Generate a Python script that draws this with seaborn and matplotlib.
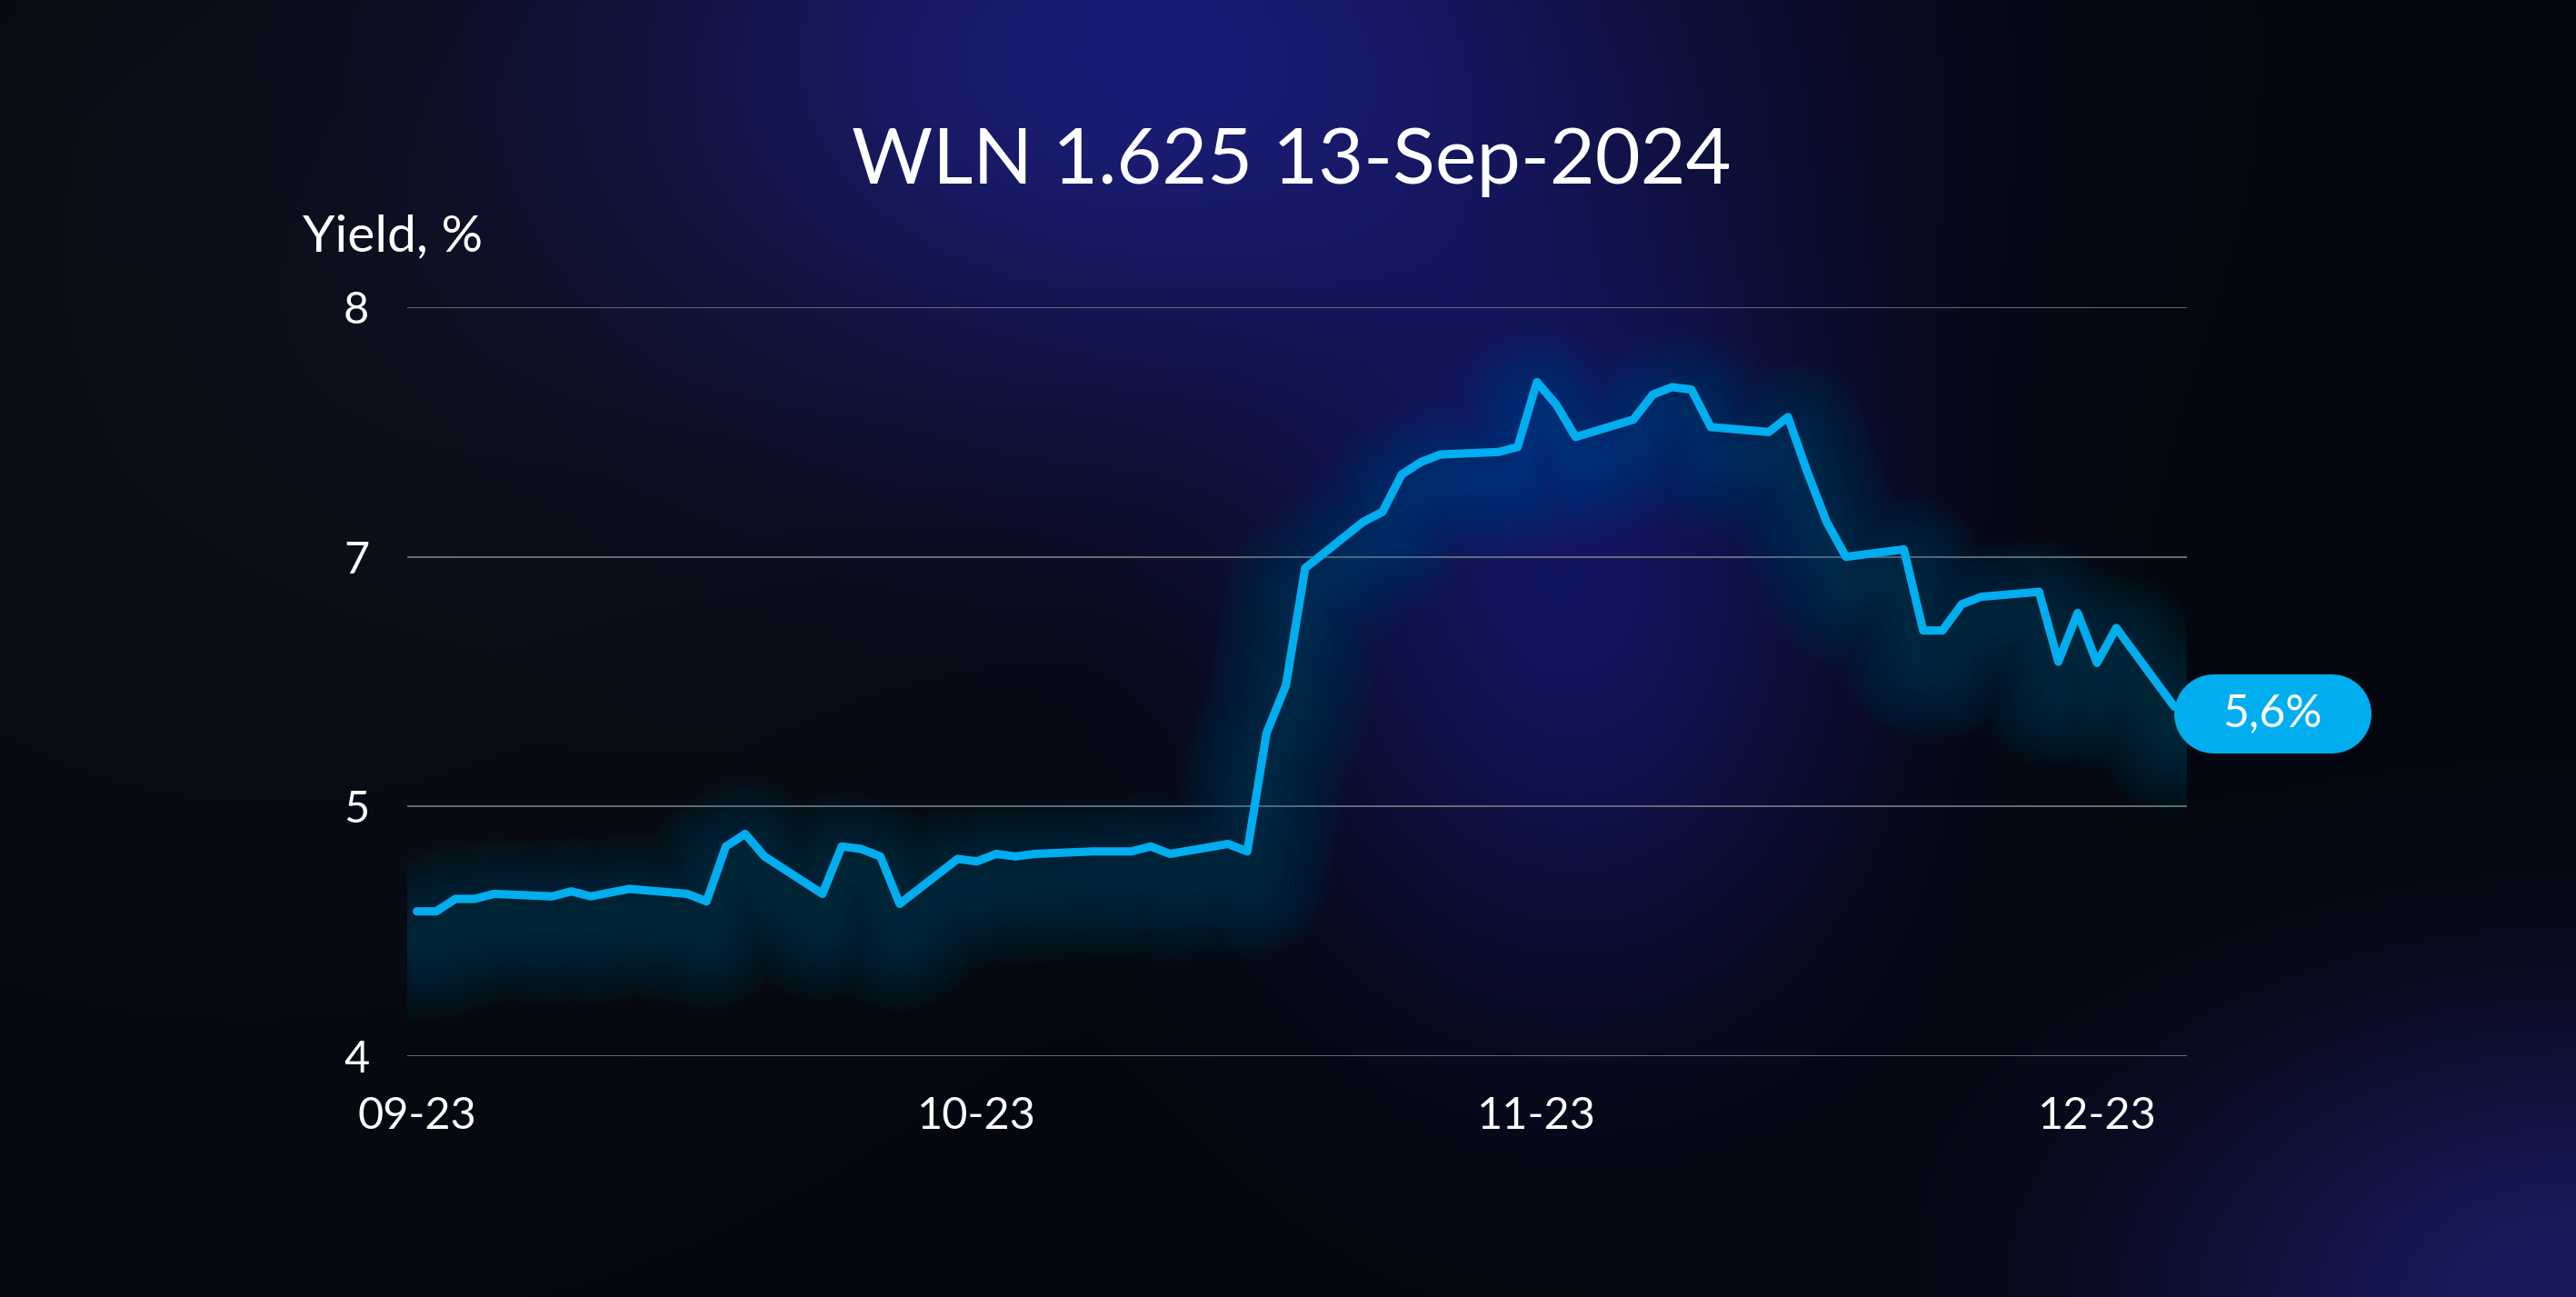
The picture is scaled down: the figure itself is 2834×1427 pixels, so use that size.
import numpy as np
import pandas as pd
import matplotlib
matplotlib.use("Agg")
import matplotlib.pyplot as plt
import seaborn as sns
from matplotlib.transforms import ScaledTranslation, offset_copy
import matplotlib.dates as mdates

# data
dates = ["2023-09-04", "2023-09-05", "2023-09-06", "2023-09-07", "2023-09-08",
         "2023-09-11", "2023-09-12", "2023-09-13", "2023-09-15",
         "2023-09-18", "2023-09-19", "2023-09-20", "2023-09-21", "2023-09-22",
         "2023-09-25", "2023-09-26", "2023-09-27", "2023-09-28", "2023-09-29",
         "2023-10-02", "2023-10-03", "2023-10-04", "2023-10-05", "2023-10-06",
         "2023-10-09", "2023-10-11", "2023-10-12", "2023-10-13",
         "2023-10-16", "2023-10-17", "2023-10-18", "2023-10-19", "2023-10-20",
         "2023-10-23", "2023-10-24", "2023-10-25", "2023-10-26", "2023-10-27",
         "2023-10-30", "2023-10-31", "2023-11-01", "2023-11-02", "2023-11-03",
         "2023-11-06", "2023-11-07", "2023-11-08", "2023-11-09", "2023-11-10",
         "2023-11-13", "2023-11-14", "2023-11-15", "2023-11-16", "2023-11-17",
         "2023-11-20", "2023-11-21", "2023-11-22", "2023-11-23", "2023-11-24",
         "2023-11-27", "2023-11-28", "2023-11-29", "2023-11-30", "2023-12-01",
         "2023-12-04"]
yields = [4.58, 4.58, 4.63, 4.63, 4.65,
          4.64, 4.66, 4.64, 4.67,
          4.65, 4.62, 4.84, 4.89, 4.80,
          4.65, 4.84, 4.83, 4.80, 4.61,
          4.79, 4.78, 4.81, 4.80, 4.81,
          4.82, 4.82, 4.84, 4.81,
          4.85, 4.82, 5.59, 5.97, 6.91,
          7.14, 7.18, 7.33, 7.38, 7.41,
          7.42, 7.44, 7.70, 7.61, 7.48,
          7.55, 7.65, 7.68, 7.67, 7.52,
          7.50, 7.56, 7.34, 7.14, 7.00,
          7.03, 6.41, 6.41, 6.62, 6.68,
          6.72, 6.16, 6.55, 6.15, 6.43,
          5.80]
y_ticks = [4, 5, 7, 8]
x_tick_dates = ["2023-09-04", "2023-10-03", "2023-11-01", "2023-11-30"]
x_tick_labels = ["09-23", "10-23", "11-23", "12-23"]
title = "WLN 1.625 13-Sep-2024"
last_label = "5,6%"

df = pd.DataFrame({"date": pd.to_datetime(dates), "yield": yields})

LINE = "#00AEEF"
GLOW = "#00BCD8"

sns.set_style("dark")
plt.rcParams["font.family"] = ["Lato", "DejaVu Sans"]
plt.rcParams["axes.unicode_minus"] = False

fig = plt.figure(figsize=(28.34, 14.27), dpi=100)

# background glow
H, W = 395, 784
yy, xx = np.mgrid[0:H, 0:W] * 2.0
img = np.zeros((H, W, 3))
img[:] = np.array([5, 7, 15], float)

def blob(cx, cy, sx, sy, col):
    g = np.exp(-(((xx - cx) / sx) ** 2 + ((yy - cy) / sy) ** 2))
    return g[..., None] * np.array(col, float)

img += blob(700, 30, 340, 240, [20, 20, 100])
img += blob(960, 380, 170, 220, [12, 13, 72])
img += blob(1568, 790, 260, 170, [20, 20, 80])
img += blob(150, 250, 450, 400, [7, 7, 7])
img = np.clip(img, 0, 255) / 255.0
bg = fig.add_axes([0, 0, 1, 1], zorder=-10)
bg.imshow(img, aspect="auto", interpolation="bilinear", extent=[0, 1, 0, 1])
bg.axis("off")

ax = fig.add_axes([448 / 2834, 1 - 1162 / 1427, 1958 / 2834, 824 / 1427])
ax.set_facecolor("none")

# piecewise y scale so 4, 5, 7, 8 sit evenly spaced
def fwd(v):
    return np.interp(np.asarray(v, float), [4, 5, 7, 8], [0, 1, 2, 3])

def inv(p):
    return np.interp(np.asarray(p, float), [0, 1, 2, 3], [4, 5, 7, 8])

ax.set_yscale("function", functions=(fwd, inv))
ax.set_ylim(4, 8)
start = pd.Timestamp(dates[0])
ax.set_xlim(start - pd.Timedelta(hours=12), start + pd.Timedelta(days=91.66))

# soft glow, shifted a bit below the line
glow_tr = offset_copy(ax.transData, fig=fig, x=0, y=-30, units="dots")
for lw in np.linspace(12, 130, 24):
    ax.plot(df["date"], df["yield"], color=GLOW, lw=lw, alpha=0.010, transform=glow_tr,
            solid_joinstyle="round", solid_capstyle="round", zorder=2)

sns.lineplot(data=df, x="date", y="yield", ax=ax, color=LINE, linewidth=6.6, zorder=4,
             solid_joinstyle="round", solid_capstyle="round")

ax.set_yticks(y_ticks)
ax.set_yticklabels([str(t) for t in y_ticks])
ax.set_xticks(pd.to_datetime(x_tick_dates))
ax.set_xticklabels(x_tick_labels)
ax.grid(axis="y", color="#6a6b78", linewidth=1.4)
ax.grid(axis="x", visible=False)
ax.tick_params(axis="both", length=0, colors="white", labelsize=35)
ax.tick_params(axis="y", pad=30)
ax.tick_params(axis="x", pad=32)
for s in ax.spines.values():
    s.set_visible(False)
ax.set_xlabel("")
ax.set_ylabel("")

# capsule label at the last point (offsets in inches from the point)
xd = mdates.date2num(df["date"].iloc[-1])
yd = df["yield"].iloc[-1]
tr = fig.dpi_scale_trans + ScaledTranslation(xd, yd, ax.transData)
ax.plot([0.435, 2.17 - 0.435], [-0.08, -0.08], transform=tr, color=LINE,
        lw=0.87 * 72, solid_capstyle="round", clip_on=False, zorder=6)
ax.text(1.085, -0.08, last_label, transform=tr, ha="center", va="center", color="white",
        fontsize=36, zorder=7, clip_on=False)

fig.text(0.5014, 0.8584, title, ha="center", va="baseline", color="white", fontsize=62)
fig.text(333 / 2834, 1 - 276 / 1427, "Yield, %", ha="left", va="baseline", color="white", fontsize=41)

fig.savefig("out.png", dpi=100)
